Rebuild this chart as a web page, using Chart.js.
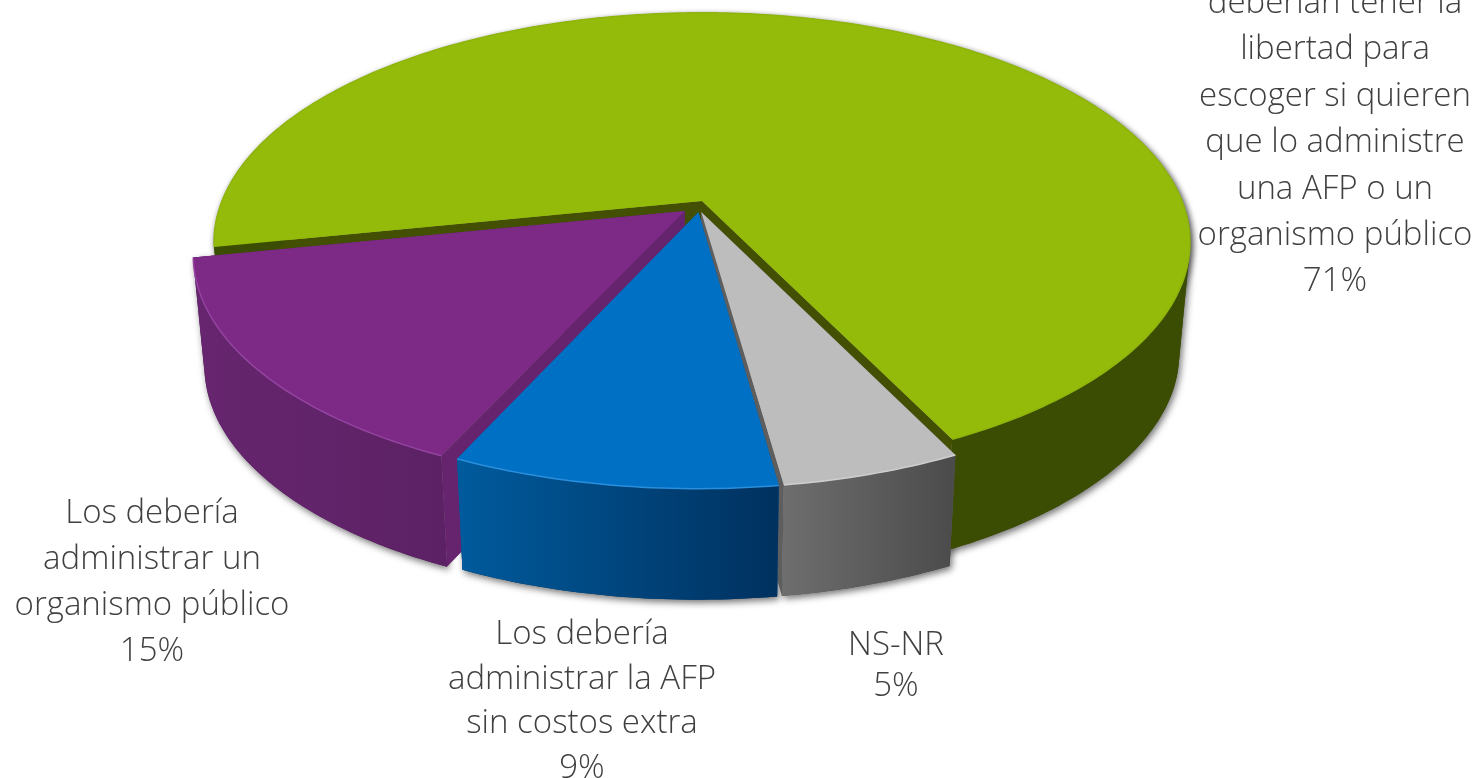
<!DOCTYPE html>
<html>
<head>
<meta charset="utf-8">
<script src="https://cdn.jsdelivr.net/npm/chart.js@4"></script>
<style>
  html, body { margin: 0; padding: 0; background: #fff; overflow: hidden; }
  #wrap { position: relative; width: 1478px; height: 778px; }
</style>
</head>
<body>
<div id="wrap"><canvas id="pie" width="1478" height="778"></canvas></div>
<script>
// slice order is clockwise starting at the left edge of the green slice
const categories = [
  ["deberían tener la", "libertad para", "escoger si quieren", "que lo administre", "una AFP o un", "organismo público"],
  ["NS-NR"],
  ["Los debería", "administrar la AFP", "sin costos extra"],
  ["Los debería", "administrar un", "organismo público"]
];
const values = [71, 5, 9, 15];

const topColors = ["#94BB0A", "#BDBDBD", "#0070C4", "#7C2A86"];
const rimColors = ["#8FB40C", "#CFCFCF", "#2A8FDC", "#9444A0"];
const cutColors = ["#435004", "#5E5E5E", "#005A9C", "#66246E"];
const wallFrom = ["#3B4C03", "#6E6E6E", "#005A9C", "#66256E"];
const wallTo = ["#3B4C03", "#4C4C4C", "#00315F", "#5C2164"];
const explode = [0, 10, 10, 10];
// the exploded slices do not move strictly along their radius in the picture
const nudgeX = [0, -8, 0, 2];
const nudgeY = [0, 0, 0, 3];

// where each label block is centred and the baseline of its first line
const labelX = [1335, 896, 582, 152];
const labelY = [13, 655, 644, 523];
const lineStep = [46.4, 41, 44.7, 46];

// perspective of the tilted disc, in units of the chart.js radius
const tilt = { sx: 2.449, sy: 1.133, k: 0.18, sink: 0.978, depth: 111 };

function toScreen(arc, u, v, low) {
  const w = 1 - tilt.k * v;
  const s = low ? tilt.sink : 1;
  return {
    x: arc.x + arc.outerRadius * tilt.sx * u / w * s,
    y: arc.y + arc.outerRadius * tilt.sy * v / w + (low ? tilt.depth : 0)
  };
}

function rimPoints(arc, i, low) {
  const pts = [];
  const off = arc.options.offset / arc.outerRadius;
  const mid = (arc.startAngle + arc.endAngle) / 2;
  const n = Math.ceil((arc.endAngle - arc.startAngle) * 60);
  for (let j = 0; j <= n; j++) {
    const t = arc.startAngle + (arc.endAngle - arc.startAngle) * j / n;
    const p = toScreen(arc, Math.cos(t) + off * Math.cos(mid), Math.sin(t) + off * Math.sin(mid), low);
    pts.push({ x: p.x + nudgeX[i], y: p.y + nudgeY[i] });
  }
  return pts;
}

function apex(arc, i, low) {
  const off = arc.options.offset / arc.outerRadius;
  const mid = (arc.startAngle + arc.endAngle) / 2;
  const p = toScreen(arc, off * Math.cos(mid), off * Math.sin(mid), low);
  return { x: p.x + nudgeX[i], y: p.y + nudgeY[i] };
}

function fillPoly(ctx, pts, fill) {
  ctx.beginPath();
  pts.forEach((p, i) => i ? ctx.lineTo(p.x, p.y) : ctx.moveTo(p.x, p.y));
  ctx.closePath();
  ctx.fillStyle = fill;
  ctx.fill();
}

// the wall is the area swept between both rims, so every step gets its own
// quad, all wound the same way or they would cancel each other out
function fillWall(ctx, top, low, fill) {
  ctx.beginPath();
  for (let j = 0; j < top.length - 1; j++) {
    let q = [top[j], top[j + 1], low[j + 1], low[j]];
    let area = 0;
    q.forEach((p, n) => {
      const r = q[(n + 1) % 4];
      area += p.x * r.y - r.x * p.y;
    });
    if (area < 0) q = q.reverse();
    q.forEach((p, n) => n ? ctx.lineTo(p.x, p.y) : ctx.moveTo(p.x, p.y));
    ctx.closePath();
  }
  ctx.fillStyle = fill;
  ctx.fill();
}

const discPlugin = {
  id: "disc",
  beforeDatasetsDraw(chart) {
    const ctx = chart.ctx;
    const arcs = chart.getDatasetMeta(0).data;

    // soft shadow around the whole solid
    ctx.save();
    ctx.shadowColor = "rgba(0,0,0,0.55)";
    ctx.shadowBlur = 7;
    ctx.shadowOffsetX = 2;
    ctx.shadowOffsetY = 3;
    arcs.forEach((arc, i) => {
      fillWall(ctx, rimPoints(arc, i, false), rimPoints(arc, i, true), wallTo[i]);
      fillPoly(ctx, [apex(arc, i, false)].concat(rimPoints(arc, i, false)), topColors[i]);
    });
    ctx.restore();

    // back to front: green, purple, grey, blue
    [0, 3, 1, 2].forEach(i => {
      const arc = arcs[i];
      const top = rimPoints(arc, i, false);
      const low = rimPoints(arc, i, true);
      const a = apex(arc, i, false);
      const b = apex(arc, i, true);

      fillPoly(ctx, [a, top[0], low[0], b], cutColors[i]);
      fillPoly(ctx, [a, top[top.length - 1], low[low.length - 1], b], cutColors[i]);

      const xs = low.map(p => p.x);
      const grad = ctx.createLinearGradient(Math.min(...xs), 0, Math.max(...xs), 0);
      grad.addColorStop(0, wallFrom[i]);
      grad.addColorStop(1, wallTo[i]);
      fillWall(ctx, top, low, grad);

      fillPoly(ctx, [a].concat(top), topColors[i]);

      ctx.beginPath();
      top.forEach((p, j) => j ? ctx.lineTo(p.x, p.y) : ctx.moveTo(p.x, p.y));
      ctx.strokeStyle = rimColors[i];
      ctx.lineWidth = 1.5;
      ctx.stroke();
    });
    return false;
  },
  afterDraw(chart) {
    const ctx = chart.ctx;
    ctx.save();
    ctx.font = '300 33px "Open Sans"';
    ctx.fillStyle = "#404040";
    ctx.textAlign = "center";
    ctx.textBaseline = "alphabetic";
    categories.forEach((lines, i) => {
      lines.concat(values[i] + "%").forEach((line, j) => {
        ctx.fillText(line, labelX[i], labelY[i] + j * lineStep[i]);
      });
    });
    ctx.restore();
  }
};

new Chart(document.getElementById("pie"), {
  type: "pie",
  data: {
    labels: categories.map(c => c.join(" ")),
    datasets: [{ data: values, backgroundColor: topColors, offset: explode, borderWidth: 0 }]
  },
  options: {
    responsive: false,
    animation: false,
    rotation: 258.5,
    layout: { padding: { right: 74, bottom: 376 } },
    plugins: { legend: { display: false }, tooltip: { enabled: false } }
  },
  plugins: [discPlugin]
});
</script>
</body>
</html>
